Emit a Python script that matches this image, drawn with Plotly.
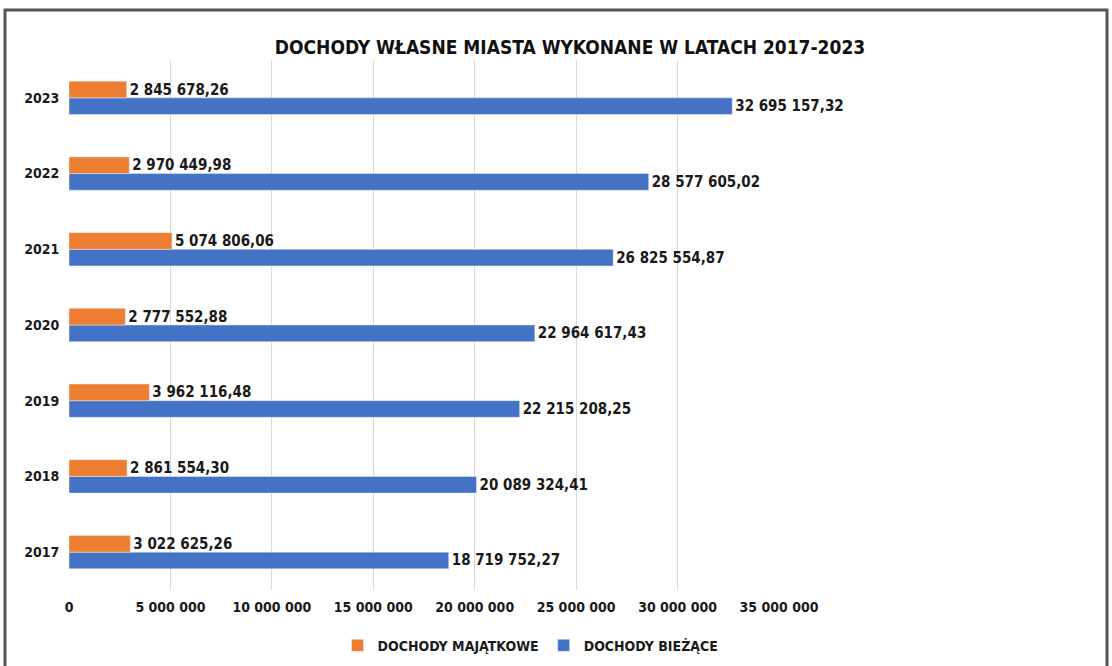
import plotly.graph_objects as go

years = ["2017", "2018", "2019", "2020", "2021", "2022", "2023"]
majatkowe = [3022625.26, 2861554.30, 3962116.48, 2777552.88, 5074806.06, 2970449.98, 2845678.26]
biezace = [18719752.27, 20089324.41, 22215208.25, 22964617.43, 26825554.87, 28577605.02, 32695157.32]
x_ticks = [0, 5000000, 10000000, 15000000, 20000000, 25000000, 30000000, 35000000]
x_tick_labels = ["0", "5 000 000", "10 000 000", "15 000 000", "20 000 000", "25 000 000", "30 000 000", "35 000 000"]
title_text = "DOCHODY WŁASNE MIASTA WYKONANE W LATACH 2017-2023"
name_maj = "DOCHODY MAJĄTKOWE"
name_bie = "DOCHODY BIEŻĄCE"


def pl(v):
    s = f"{v:,.2f}"
    return s.replace(",", " ").replace(".", ",")


FONT = "DejaVu Sans Condensed"
TXT = "#1a1a1a"

fig = go.Figure()
fig.add_trace(go.Bar(
    y=years, x=biezace, orientation="h", name=name_bie,
    marker_color="#4472C4", text=[pl(v) for v in biezace],
    textposition="outside", cliponaxis=False, constraintext="none",
    textfont=dict(family=FONT, size=15, color=TXT, weight="bold"),
    legendrank=2,
))
fig.add_trace(go.Bar(
    y=years, x=majatkowe, orientation="h", name=name_maj,
    marker_color="#ED7D31", text=[pl(v) for v in majatkowe],
    textposition="outside", cliponaxis=False, constraintext="none",
    textfont=dict(family=FONT, size=15, color=TXT, weight="bold"),
    legendrank=1,
))

fig.update_layout(
    width=1112, height=666,
    barmode="group", bargap=0.56, bargroupgap=0.0,
    paper_bgcolor="white", plot_bgcolor="white",
    margin=dict(l=69, r=333, t=60, b=76, autoexpand=False),
    title=dict(text=title_text, x=570 / 1112, xanchor="center", y=1 - 47 / 666, yanchor="middle",
               font=dict(family=FONT, size=19, color="#111", weight="bold")),
    showlegend=True,
    legend=dict(orientation="h", x=0.65, xanchor="center", y=-0.075, yanchor="top",
                font=dict(family=FONT, size=14, color=TXT, weight="bold"),
                itemwidth=30),
    xaxis=dict(range=[0, 35000000], tickvals=x_ticks, ticktext=x_tick_labels,
               showgrid=True, gridcolor="#d9d9d9", gridwidth=1, zeroline=False,
               showline=False, ticks="outside", ticklen=4, tickcolor="white",
               tickfont=dict(family=FONT, size=14, color=TXT, weight="bold")),
    yaxis=dict(showgrid=False, zeroline=False, showline=False, ticks="outside", ticklen=6, tickcolor="white",
               tickfont=dict(family=FONT, size=14, color=TXT, weight="bold")),
    shapes=[dict(type="rect", xref="paper", yref="paper",
                 x0=(5 - 69) / 710, x1=(1107 - 69) / 710,
                 y0=-0.2, y1=(590 - 10) / 530,
                 line=dict(color="#555555", width=3), fillcolor="rgba(0,0,0,0)", layer="below")],
)

fig.write_html("out.html", config={"displayModeBar": False},
               post_script="document.body.style.margin='0';document.body.style.overflow='hidden';")
